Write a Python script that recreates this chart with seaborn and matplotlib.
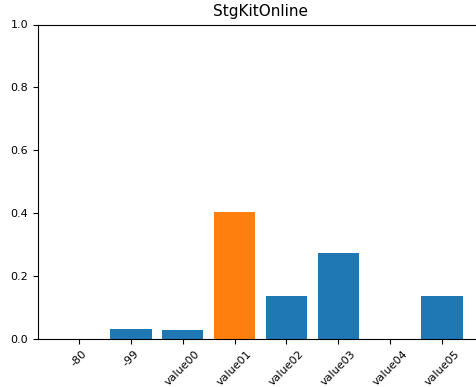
import matplotlib
matplotlib.use("Agg")
import matplotlib.pyplot as plt
import seaborn as sns
import pandas as pd

categories = ["-80", "-99", "value00", "value01", "value02", "value03", "value04", "value05"]
shares = [0.0, 0.032, 0.028, 0.405, 0.136, 0.273, 0.0, 0.136]
bar_colors = ["#1f77b4", "#1f77b4", "#1f77b4", "#ff7f0e", "#1f77b4", "#1f77b4", "#1f77b4", "#1f77b4"]
title = "StgKitOnline"

df = pd.DataFrame({"category": categories, "share": shares})

fig = plt.figure(figsize=(4.77, 3.87), dpi=100)
ax = fig.add_axes([38 / 477, 48 / 387, 445 / 477, 314.5 / 387])

sns.barplot(data=df, x="category", y="share", hue="category",
            palette=bar_colors, legend=False, width=0.8, saturation=1,
            linewidth=0, ax=ax)

ax.set_xlim(-0.79, len(categories) - 1 + 0.79)
ax.set_ylim(0, 1.0)
ax.set_yticks([0.0, 0.2, 0.4, 0.6, 0.8, 1.0])
ax.set_xlabel("")
ax.set_ylabel("")
ax.set_title(title, fontsize=11, pad=6)
ax.tick_params(axis="both", labelsize=8)
for lbl in ax.get_xticklabels():
    lbl.set_rotation(45)
    lbl.set_ha("center")

fig.savefig("out.png", dpi=100)
